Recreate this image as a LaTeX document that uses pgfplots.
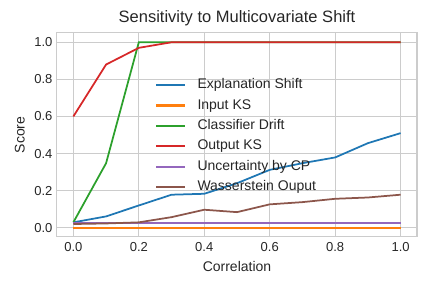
\documentclass[border=0pt]{standalone}
\usepackage{fontspec}
\setmainfont{Liberation Sans}
\usepackage{pgfplots}
\pgfplotsset{compat=1.18}
\definecolor{cA}{HTML}{1F77B4}
\definecolor{cB}{HTML}{FF7F0E}
\definecolor{cC}{HTML}{2CA02C}
\definecolor{cD}{HTML}{D62728}
\definecolor{cE}{HTML}{9467BD}
\definecolor{cF}{HTML}{8C564B}
\definecolor{gridc}{HTML}{CCCCCC}
\definecolor{textc}{HTML}{262626}
\begin{document}
\begin{tikzpicture}
\useasboundingbox (0,0) rectangle (432pt,288pt);
\begin{axis}[
  at={(57pt,51pt)}, anchor=south west,
  scale only axis, width=360pt, height=204pt,
  xmin=-0.05, xmax=1.05, ymin=-0.05, ymax=1.05,
  xtick={0,0.2,0.4,0.6,0.8,1.0},
  ytick={0,0.2,0.4,0.6,0.8,1.0},
  grid=major,
  grid style={color=gridc, line width=0.8pt},
  axis line style={color=gridc, line width=1pt},
  major tick length=0pt,
  /pgf/number format/assume math mode=true,
  /pgf/number format/.cd, fixed, fixed zerofill, precision=1, /pgfplots/.cd,
  tick label style={font=\fontsize{13}{13}\selectfont, text=textc},
  xticklabel style={yshift=-2pt},
  yticklabel style={xshift=-1pt},
  title={Sensitivity to Multicovariate Shift},
  title style={font=\fontsize{16.5}{16.5}\selectfont, text=textc, at={(rel axis cs:0.5,1.0196)}, anchor=base, inner sep=0pt},
  xlabel={Correlation},
  ylabel={Score},
  xlabel style={font=\fontsize{14}{14}\selectfont, text=textc, at={(rel axis cs:0.5,-0.167)}, anchor=base, inner sep=0pt},
  ylabel style={font=\fontsize{14}{14}\selectfont, text=textc, at={(rel axis cs:-0.09,0.5)}, anchor=base, rotate=0, inner sep=0pt},
  legend cell align=left,
  legend style={at={(rel axis cs:0.2725,0.777)}, anchor=north west, draw=none, fill=none,
    font=\fontsize{14}{14}\selectfont, text=textc, inner sep=0pt, row sep=7.4pt, column sep=11pt,
    nodes={inner sep=0pt, text height=10pt, text depth=3pt}},
  legend image code/.code={\draw[#1, line width=2.2pt] (0pt,0pt) -- (29pt,0pt);},
  every axis plot/.append style={line width=1.75pt},
]
\addplot[cA] coordinates {(0,0.029) (0.1,0.061) (0.2,0.12) (0.3,0.178) (0.4,0.183) (0.5,0.24) (0.6,0.312) (0.7,0.348) (0.8,0.379) (0.9,0.456) (1.0,0.51)};
\addlegendentry{Explanation Shift}
\addplot[cB] coordinates {(0,0.0) (0.1,0.0) (0.2,0.0) (0.3,0.0) (0.4,0.0) (0.5,0.0) (0.6,0.0) (0.7,0.0) (0.8,0.0) (0.9,0.0) (1.0,0.0)};
\addlegendentry{Input KS}
\addplot[cC] coordinates {(0,0.029) (0.1,0.348) (0.2,1.0) (0.3,1.0) (0.4,1.0) (0.5,1.0) (0.6,1.0) (0.7,1.0) (0.8,1.0) (0.9,1.0) (1.0,1.0)};
\addlegendentry{Classifier Drift}
\addplot[cD] coordinates {(0,0.60) (0.1,0.88) (0.2,0.97) (0.3,1.0) (0.4,1.0) (0.5,1.0) (0.6,1.0) (0.7,1.0) (0.8,1.0) (0.9,1.0) (1.0,1.0)};
\addlegendentry{Output KS}
\addplot[cE] coordinates {(0,0.025) (0.1,0.025) (0.2,0.025) (0.3,0.025) (0.4,0.025) (0.5,0.025) (0.6,0.025) (0.7,0.025) (0.8,0.025) (0.9,0.025) (1.0,0.025)};
\addlegendentry{Uncertainty by CP}
\addplot[cF] coordinates {(0,0.02) (0.1,0.023) (0.2,0.029) (0.3,0.057) (0.4,0.097) (0.5,0.084) (0.6,0.126) (0.7,0.138) (0.8,0.156) (0.9,0.163) (1.0,0.178)};
\addlegendentry{Wasserstein Ouput}
\end{axis}
\end{tikzpicture}
\end{document}
